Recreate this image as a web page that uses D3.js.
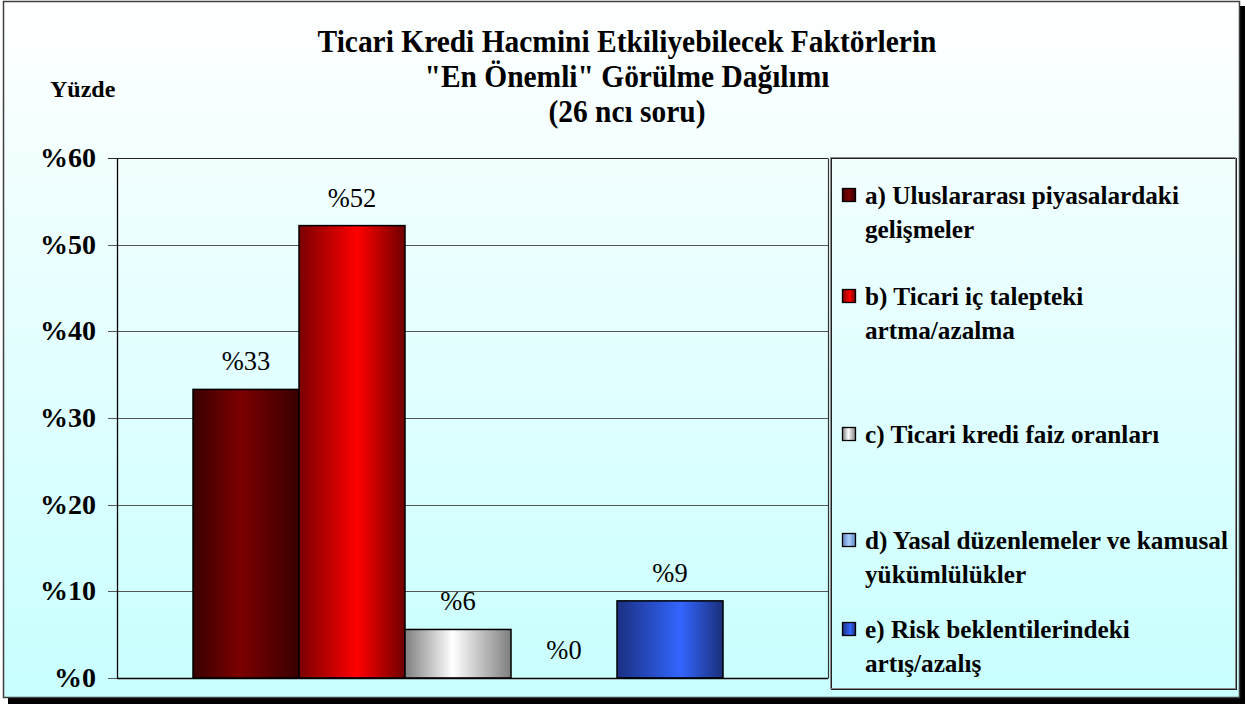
<!DOCTYPE html>
<html>
<head>
<meta charset="utf-8">
<script src="https://cdn.jsdelivr.net/npm/d3@7"></script>
<style>
  body { margin: 0; background: #fff; }
  svg { display: block; }
  text { font-family: "Liberation Serif", "Times New Roman", serif; }
</style>
</head>
<body>
<div id="chart"></div>
<script>
// data
const categories = ["a", "b", "c", "d", "e"];
const values = [33.3, 52.2, 5.6, 0, 8.9];
const valueLabels = ["%33", "%52", "%6", "%0", "%9"];
const legendLines = [
    ["a) Uluslararası piyasalardaki", "gelişmeler"],
    ["b) Ticari iç talepteki", "artma/azalma"],
    ["c) Ticari kredi faiz oranları"],
    ["d) Yasal düzenlemeler ve kamusal", "yükümlülükler"],
    ["e) Risk beklentilerindeki", "artış/azalış"]
];
const yTicks = [0, 10, 20, 30, 40, 50, 60];
const titleLines = [
    "Ticari Kredi Hacmini Etkiliyebilecek Faktörlerin",
    "\"En Önemli\" Görülme Dağılımı",
    "(26 ncı soru)"
];

// gradient colours per series: [edge, centre, edge, centre offset]
let barColors = [
    ["#3a0000", "#7c0000", "#380000", 0.45],
    ["#7a0000", "#ff0000", "#6e0000", 0.55],
    ["#7f7f7f", "#ffffff", "#7f7f7f", 0.45],
    ["#5f86c0", "#a8d0ff", "#5f86c0", 0.5],
    ["#1a2f80", "#3366ff", "#1a2f78", 0.6]
];

let width = 1245, height = 704;
let plot = { left: 117, top: 158, right: 828, bottom: 678 };

let svg = d3.select("#chart").append("svg")
    .attr("width", width)
    .attr("height", height);

let defs = svg.append("defs");

let bg = defs.append("linearGradient")
    .attr("id", "bg").attr("x1", 0).attr("y1", 0).attr("x2", 0).attr("y2", 1);
bg.append("stop").attr("offset", 0).attr("stop-color", "#ffffff");
bg.append("stop").attr("offset", 1).attr("stop-color", "#c8ffff");

barColors.forEach((c, i) => {
    let g = defs.append("linearGradient")
        .attr("id", "bar" + i).attr("x1", 0).attr("y1", 0).attr("x2", 1).attr("y2", 0);
    g.append("stop").attr("offset", 0).attr("stop-color", c[0]);
    g.append("stop").attr("offset", c[3]).attr("stop-color", c[1]);
    g.append("stop").attr("offset", 1).attr("stop-color", c[2]);
});

/* frame with shadow */
svg.append("rect")
    .attr("x", 8).attr("y", 6)
    .attr("width", 1237).attr("height", 698)
    .attr("fill", "#000");
svg.append("rect")
    .attr("x", 3.5).attr("y", 1.5)
    .attr("width", 1236).attr("height", 696)
    .attr("fill", "url(#bg)")
    .attr("stroke", "#404040")
    .attr("stroke-width", 1.5);

/* scales */
let x = d3.scaleBand()
    .domain(categories)
    .range([193, 723])
    .padding(0);

let y = d3.scaleLinear()
    .domain([0, 60])
    .range([plot.bottom, plot.top]);

/* gridlines */
svg.append("g")
    .selectAll("line")
    .data(yTicks)
    .enter().append("line")
    .attr("x1", plot.left - 9)
    .attr("x2", plot.right)
    .attr("y1", d => Math.round(y(d)) + 0.5)
    .attr("y2", d => Math.round(y(d)) + 0.5)
    .attr("stroke", d => d === 60 ? "#222" : "#555")
    .attr("stroke-width", 1.2);

// right border of plot area
svg.append("line")
    .attr("x1", plot.right + 0.5).attr("x2", plot.right + 0.5)
    .attr("y1", Math.round(y(60)) + 0.5).attr("y2", Math.round(y(0)) + 0.5)
    .attr("stroke", "#333").attr("stroke-width", 1.2);

/* y tick labels */
svg.append("g")
    .selectAll("text")
    .data(yTicks)
    .enter().append("text")
    .attr("x", 96)
    .attr("y", d => y(d) + 9)
    .attr("text-anchor", "end")
    .attr("font-size", "28px")
    .attr("font-weight", "bold")
    .text(d => "%" + d);

/* bars */
svg.append("g")
    .selectAll("rect")
    .data(values)
    .enter().append("rect")
    .attr("x", (d, i) => x(categories[i]))
    .attr("y", d => y(d))
    .attr("width", x.bandwidth())
    .attr("height", d => y(0) - y(d))
    .attr("fill", (d, i) => "url(#bar" + i + ")")
    .attr("stroke", "#000")
    .attr("stroke-width", d => d > 0 ? 1.5 : 0);

/* value labels */
svg.append("g")
    .selectAll("text")
    .data(values)
    .enter().append("text")
    .attr("class", "condense")
    .attr("data-f", 0.98)
    .attr("x", (d, i) => x(categories[i]) + x.bandwidth() / 2)
    .attr("y", d => y(d) - 19)
    .attr("text-anchor", "middle")
    .attr("font-size", "27px")
    .text((d, i) => valueLabels[i]);

/* y axis line */
svg.append("line")
    .attr("x1", plot.left + 0.5).attr("x2", plot.left + 0.5)
    .attr("y1", plot.top).attr("y2", plot.bottom + 1)
    .attr("stroke", "#000").attr("stroke-width", 1.3);
svg.append("line")
    .attr("x1", plot.left).attr("x2", plot.right)
    .attr("y1", Math.round(y(0)) + 0.5).attr("y2", Math.round(y(0)) + 0.5)
    .attr("stroke", "#000").attr("stroke-width", 1.3);

/* title */
svg.append("g")
    .selectAll("text")
    .data(titleLines)
    .enter().append("text")
    .attr("class", "condense")
    .attr("data-f", 0.95)
    .attr("x", 627)
    .attr("y", (d, i) => 52 + i * 35)
    .attr("text-anchor", "middle")
    .attr("font-size", "31px")
    .attr("font-weight", "bold")
    .text(d => d);

svg.append("text")
    .attr("class", "condense")
    .attr("data-f", 1.0)
    .attr("x", 50)
    .attr("y", 97)
    .attr("font-size", "24px")
    .attr("font-weight", "bold")
    .text("Yüzde");

/* legend */
let legendBox = { x: 830, y: 157, w: 405, h: 531 };
svg.append("rect")
    .attr("x", legendBox.x + 1.5).attr("y", legendBox.y + 1.5)
    .attr("width", legendBox.w).attr("height", legendBox.h)
    .attr("fill", "none").attr("stroke", "#222");
svg.append("rect")
    .attr("x", legendBox.x + 0.5).attr("y", legendBox.y + 0.5)
    .attr("width", legendBox.w).attr("height", legendBox.h)
    .attr("fill", "none").attr("stroke", "#8a8a8a");

let legendRowY = [204, 305, 443, 549, 638];

let items = svg.append("g")
    .selectAll("g")
    .data(legendLines)
    .enter().append("g")
    .attr("transform", (d, i) => `translate(${legendBox.x}, ${legendRowY[i]})`);

items.append("rect")
    .attr("x", 12.5).attr("y", -15.5)
    .attr("width", 13).attr("height", 13)
    .attr("fill", (d, i) => "url(#bar" + i + ")")
    .attr("stroke", "#000")
    .attr("stroke-width", 1.3);

items.selectAll("text")
    .data(d => d)
    .enter().append("text")
    .attr("class", "condense")
    .attr("data-f", 0.97)
    .attr("x", 35)
    .attr("y", (d, j) => j * 34)
    .attr("font-size", "26px")
    .attr("font-weight", "bold")
    .text(d => d);

// squeeze the serif text a little, the original is set tight
svg.selectAll("text.condense").each(function () {
    let len = this.getComputedTextLength();
    let f = +this.getAttribute("data-f");
    d3.select(this)
        .attr("textLength", len * f)
        .attr("lengthAdjust", "spacingAndGlyphs");
});
</script>
</body>
</html>
